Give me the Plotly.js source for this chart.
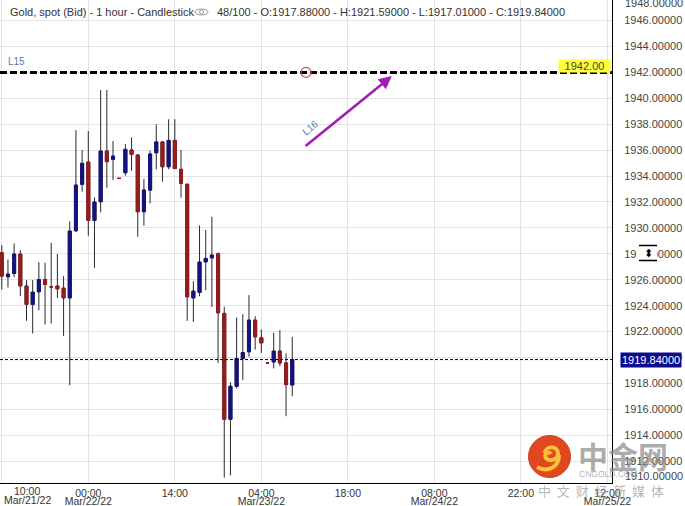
<!DOCTYPE html>
<html>
<head>
<meta charset="utf-8">
<script src="https://cdn.plot.ly/plotly-3.0.1.min.js"></script>
<style>
html,body{margin:0;padding:0;background:#fff;overflow:hidden;}
#chart{width:685px;height:506px;}
</style>
</head>
<body>
<div id="chart"></div>
<script>
// ---- data (hourly candles, Gold spot Bid) ----
const times = [
 '2022-03-21 10:00','2022-03-21 11:00','2022-03-21 12:00','2022-03-21 13:00','2022-03-21 14:00','2022-03-21 15:00','2022-03-21 16:00',
 '2022-03-21 17:00','2022-03-21 18:00','2022-03-21 19:00','2022-03-21 20:00','2022-03-21 21:00','2022-03-21 22:00','2022-03-21 23:00',
 '2022-03-22 00:00','2022-03-22 01:00','2022-03-22 02:00','2022-03-22 03:00','2022-03-22 04:00','2022-03-22 05:00','2022-03-22 06:00',
 '2022-03-22 07:00','2022-03-22 08:00','2022-03-22 09:00','2022-03-22 10:00','2022-03-22 11:00','2022-03-22 12:00','2022-03-22 13:00',
 '2022-03-22 14:00','2022-03-22 15:00','2022-03-22 16:00','2022-03-22 17:00','2022-03-22 18:00','2022-03-22 19:00','2022-03-22 20:00',
 '2022-03-22 21:00','2022-03-22 22:00','2022-03-22 23:00',
 '2022-03-23 00:00','2022-03-23 01:00','2022-03-23 02:00','2022-03-23 03:00','2022-03-23 04:00','2022-03-23 05:00','2022-03-23 06:00',
 '2022-03-23 07:00','2022-03-23 08:00','2022-03-23 09:00'
];
const openP = [
 1928.08,1926.23,1926.48,1927.98,1925.51,1924.09,1925.07,1926.02,1925.45,1925.51,1925.35,1924.60,1929.78,1933.36,
 1935.08,1930.58,1932.02,1935.93,1935.29,1933.82,1934.26,1936.01,1935.62,1931.25,1932.92,1935.80,1936.63,1934.72,
 1936.75,1934.52,1933.36,1924.60,1925.02,1927.38,1927.69,1928.00,1923.40,1915.24,
 1917.78,1919.92,1920.44,1922.88,1921.52,1919.58,1919.66,1920.49,1919.58,1917.88
];
const highP = [
 1928.67,1927.56,1928.80,1928.29,1925.97,1925.97,1927.36,1927.31,1928.85,1927.98,1926.28,1930.50,1937.55,1936.01,
 1937.47,1932.35,1940.64,1940.64,1936.70,1933.85,1936.47,1936.99,1935.70,1933.77,1935.96,1937.99,1936.70,1938.38,
 1938.38,1936.01,1933.45,1925.89,1930.19,1929.83,1930.86,1928.11,1923.91,1918.09,
 1923.08,1923.34,1924.81,1923.19,1922.16,1919.60,1921.90,1922.11,1920.31,1921.59
];
const lowP = [
 1925.25,1925.40,1926.18,1924.73,1922.83,1921.85,1923.65,1922.55,1922.62,1924.60,1921.67,1917.86,1929.70,1932.79,
 1929.39,1926.92,1931.20,1933.10,1933.69,1933.80,1934.03,1934.41,1929.32,1930.17,1931.89,1934.52,1933.56,1934.52,
 1934.52,1932.33,1922.83,1922.75,1924.73,1925.20,1923.91,1919.58,1910.73,1910.91,
 1917.60,1918.25,1920.05,1920.61,1920.36,1919.56,1919.15,1919.33,1915.47,1917.01
];
const closeP = [
 1926.28,1926.43,1927.98,1925.53,1924.09,1925.04,1926.02,1925.64,1925.45,1925.30,1924.60,1929.75,1933.30,1934.98,
 1930.58,1931.99,1935.93,1935.11,1935.54,1933.82,1936.06,1935.67,1931.25,1932.92,1935.70,1936.63,1934.72,1936.75,
 1934.59,1933.43,1924.68,1925.12,1927.36,1927.64,1927.90,1923.45,1915.24,1917.78,
 1919.92,1920.38,1922.88,1921.59,1921.13,1919.58,1920.49,1919.58,1917.91,1919.84
];
// x axis ticks
const timeTickVals = ['2022-03-21 10:00','2022-03-22 00:00','2022-03-22 14:00','2022-03-23 04:00','2022-03-23 18:00','2022-03-24 08:00','2022-03-24 22:00','2022-03-25 12:00'];
const timeTickText = ['','00:00','14:00','04:00','18:00','08:00','22:00','12:00'];
const dateTickVals = ['2022-03-22 00:00','2022-03-23 04:00','2022-03-24 08:00','2022-03-25 12:00'];
const dateTickText = ['Mar/22/22','Mar/23/22','Mar/24/22','Mar/25/22'];
// reference levels
const levelL15 = 1942.00;
const lastPrice = 1919.84;
const arrowFrom = {t:'2022-03-23 10:55', v:1936.22};
const arrowTo = {t:'2022-03-24 01:07', v:1941.72};
const markerPoint = {t:'2022-03-23 11:14', v:1942.00};

// ---- styling ----
const W = 685, H = 506, MR = 73, MB = 23;
const pw = W - MR, ph = H - MB;
const px = v => v / pw;
const py = v => 1 - v / ph;
const FONT = 'Liberation Sans, Arial, sans-serif';
const UP = '#14147f', DN = '#951c1f', WICK = '#2a2a2a';
const xRange = ['2022-03-21 09:42:43', '2022-03-25 12:44:24'];
const yRange = [1910.316, 1947.585];

const bodyHigh = openP.map((o, i) => Math.max(o, closeP[i]));
const bodyLow = openP.map((o, i) => Math.min(o, closeP[i]));

const traces = [
  { type: 'candlestick', x: times, open: openP, high: highP, low: lowP, close: closeP,
    xaxis: 'x', yaxis: 'y', whiskerwidth: 0, hoverinfo: 'skip', showlegend: false,
    increasing: { line: { color: WICK, width: 1 }, fillcolor: WICK },
    decreasing: { line: { color: WICK, width: 1 }, fillcolor: WICK } },
  { type: 'candlestick', x: times, open: openP, high: bodyHigh, low: bodyLow, close: closeP,
    xaxis: 'x2', yaxis: 'y', whiskerwidth: 0, hoverinfo: 'skip', showlegend: false,
    increasing: { line: { color: UP, width: 1 }, fillcolor: UP },
    decreasing: { line: { color: DN, width: 1 }, fillcolor: DN } }
];

function pathPx(cmds) {
  return cmds.replace(/(-?\d+(?:\.\d+)?) (-?\d+(?:\.\d+)?)/g, (m, a, b) => px(+a) + ',' + py(+b));
}

const shapes = [
  // L15 dashed level
  { type: 'line', xref: 'paper', x0: 0, x1: 1, yref: 'y', y0: levelL15, y1: levelL15,
    line: { color: '#000', width: 3, dash: '7px,3px' }, layer: 'above' },
  // last price dotted
  { type: 'line', xref: 'paper', x0: 0, x1: 1, yref: 'y', y0: lastPrice, y1: lastPrice,
    line: { color: '#000', width: 1, dash: '3px,2px' }, layer: 'above' },
  // small red circle marker
  { type: 'circle', xref: 'x', xsizemode: 'pixel', xanchor: markerPoint.t, x0: -5, x1: 5,
    yref: 'y', ysizemode: 'pixel', yanchor: markerPoint.v, y0: -5, y1: 5,
    line: { color: '#c8504c', width: 1.2 }, layer: 'above' },
  // eye icon in header
  { type: 'circle', xref: 'paper', yref: 'paper', x0: px(195), x1: px(208), y0: py(9), y1: py(15),
    line: { color: '#999', width: 1 } , layer: 'above'},
  { type: 'circle', xref: 'paper', yref: 'paper', x0: px(199.5), x1: px(203.5), y0: py(10), y1: py(14),
    line: { color: '#999', width: 1 } , layer: 'above'},
  // split icon on the y axis labels
  { type: 'rect', xref: 'paper', yref: 'paper', x0: px(637), x1: px(657), y0: py(247), y1: py(259),
    fillcolor: '#fff', line: { width: 0 }, layer: 'above' },
  { type: 'line', xref: 'paper', yref: 'paper', x0: px(639), x1: px(657), y0: py(245.5), y1: py(245.5),
    line: { color: '#000', width: 1.5 }, layer: 'above' },
  { type: 'line', xref: 'paper', yref: 'paper', x0: px(639), x1: px(657), y0: py(260.5), y1: py(260.5),
    line: { color: '#000', width: 1.5 }, layer: 'above' },
  // watermark logo
  { type: 'circle', xref: 'paper', yref: 'paper', x0: px(528.5), x1: px(570.5), y0: py(477.5), y1: py(435.5),
    fillcolor: '#e0491f', line: { color: '#d23a18', width: 1 }, layer: 'above' },
  { type: 'path', xref: 'paper', yref: 'paper', layer: 'above',
    path: pathPx('M 545 453 C 545 446 557 445 558 453 C 559 460 549 462 546 458 C 543 454 549 451 551 454 M 559 455 C 559 467 548 473 537 467'),
    line: { color: '#f8c23a', width: 4 } }
];

const ann = (o) => Object.assign({ showarrow: false, font: { family: FONT, size: 11, color: '#333' } }, o);

const annotations = [
  ann({ xref: 'paper', yref: 'paper', x: px(8), y: py(11.5), xanchor: 'left', yanchor: 'middle',
        text: 'Gold, spot (Bid) - 1 hour - Candlestick' }),
  ann({ xref: 'paper', yref: 'paper', x: px(215), y: py(11.5), xanchor: 'left', yanchor: 'middle',
        text: '48/100 - O:1917.88000 - H:1921.59000 - L:1917.01000 - C:1919.84000' }),
  ann({ xref: 'paper', yref: 'paper', x: px(6), y: py(61.5), xanchor: 'left', yanchor: 'middle',
        text: 'L15', font: { family: FONT, size: 10, color: '#5a7db5' } }),
  ann({ xref: 'paper', yref: 'y', x: 1, y: levelL15, xanchor: 'right', yanchor: 'middle', yshift: 6, xshift: -1,
        text: '1942.00', bgcolor: '#ffff3a', width: 51, height: 12, borderpad: 0,
        font: { family: FONT, size: 11, color: '#444' } }),
  ann({ xref: 'paper', yref: 'y', x: 1, y: lastPrice, xanchor: 'left', yanchor: 'middle', xshift: 8,
        text: '1919.84000', bgcolor: '#0b0b8e', borderpad: 1,
        font: { family: FONT, size: 11, color: '#fff' } }),
  // arrow L16
  { xref: 'x', yref: 'y', axref: 'x', ayref: 'y', x: arrowTo.t, y: arrowTo.v, ax: arrowFrom.t, ay: arrowFrom.v,
    text: '', showarrow: true, arrowhead: 2, arrowsize: 1, arrowwidth: 2.6, arrowcolor: '#a21cb6', standoff: 0 },
  ann({ xref: 'x', yref: 'y', x: '2022-03-23 12:00', y: 1937.71, textangle: -40,
        text: 'L16', font: { family: FONT, size: 10, color: '#5a7db5' } }),
  // clamped edge labels of the axes
  ann({ xref: 'paper', yref: 'paper', x: 1, y: py(3), xanchor: 'left', yanchor: 'middle', xshift: 11,
        text: '1948.00000', font: { family: FONT, size: 11, color: '#444' } }),
  ann({ xref: 'paper', yref: 'paper', x: 1, y: py(476), xanchor: 'left', yanchor: 'middle', xshift: 11,
        text: '1910.00000', font: { family: FONT, size: 11, color: '#444' } }),
  ann({ xref: 'paper', yref: 'paper', x: px(27), y: py(490.5), xanchor: 'center', yanchor: 'middle',
        text: '10:00', font: { family: FONT, size: 10.5, color: '#333' } }),
  ann({ xref: 'paper', yref: 'paper', x: px(27), y: py(500.5), xanchor: 'center', yanchor: 'middle',
        text: 'Mar/21/22', font: { family: FONT, size: 10.5, color: '#333' } }),
  // split icon glyph
  ann({ xref: 'paper', yref: 'paper', x: px(648), y: py(253), xanchor: 'center', yanchor: 'middle',
        text: '⬍', font: { family: 'DejaVu Sans', size: 11, color: '#000' } }),
  // watermark text
  ann({ xref: 'paper', yref: 'paper', x: px(623), y: py(455), xanchor: 'center', yanchor: 'middle',
        text: '<b>中金网</b>', font: { family: 'Noto Sans CJK SC', size: 30, color: 'rgba(140,140,140,0.72)' } }),
  ann({ xref: 'paper', yref: 'paper', x: px(608), y: py(474), xanchor: 'center', yanchor: 'middle',
        text: 'CNGOLD.COM', font: { family: FONT, size: 8.5, color: 'rgba(150,150,150,0.75)' } }),
  ann({ xref: 'paper', yref: 'paper', x: px(601), y: py(490), xanchor: 'center', yanchor: 'middle',
        text: '中\u00a0\u00a0文\u00a0\u00a0财\u00a0\u00a0经\u00a0\u00a0新\u00a0\u00a0媒\u00a0\u00a0体',
        font: { family: 'Noto Sans CJK SC', size: 13, color: 'rgba(150,150,150,0.7)' } })
];

const layout = {
  width: W, height: H,
  margin: { l: 0, r: MR, t: 0, b: MB, pad: 0 },
  paper_bgcolor: '#fff', plot_bgcolor: '#fff',
  showlegend: false, dragmode: false, hovermode: false,
  font: { family: FONT, size: 11, color: '#333' },
  xaxis: {
    type: 'date', range: xRange, rangeslider: { visible: false },
    tickmode: 'array', tickvals: timeTickVals, ticktext: timeTickText,
    showgrid: true, gridcolor: '#e3e3e3', gridwidth: 1,
    showline: true, linecolor: '#000', linewidth: 1, mirror: false,
    ticks: '', zeroline: false, fixedrange: true,
    tickfont: { family: FONT, size: 10.5, color: '#333' }, ticklabelstandoff: 0
  },
  xaxis2: {
    type: 'date', range: xRange, rangeslider: { visible: false },
    overlaying: 'x', anchor: 'y', side: 'bottom',
    tickmode: 'array', tickvals: dateTickVals, ticktext: dateTickText,
    showgrid: false, showline: false, ticks: '', zeroline: false, fixedrange: true,
    tickfont: { family: FONT, size: 10.5, color: '#333' }, ticklabelstandoff: 10
  },
  yaxis: {
    side: 'right', range: yRange, tickmode: 'linear', tick0: 1910, dtick: 2, tickformat: '.5f',
    showgrid: true, gridcolor: '#e3e3e3', gridwidth: 1,
    showline: true, linecolor: '#000', linewidth: 1,
    ticks: '', zeroline: false, fixedrange: true,
    tickfont: { family: FONT, size: 11, color: '#444' }, ticklabelstandoff: 9
  },
  shapes: shapes,
  annotations: annotations
};

Plotly.newPlot('chart', traces, layout, { staticPlot: true, displayModeBar: false });
</script>
</body>
</html>
